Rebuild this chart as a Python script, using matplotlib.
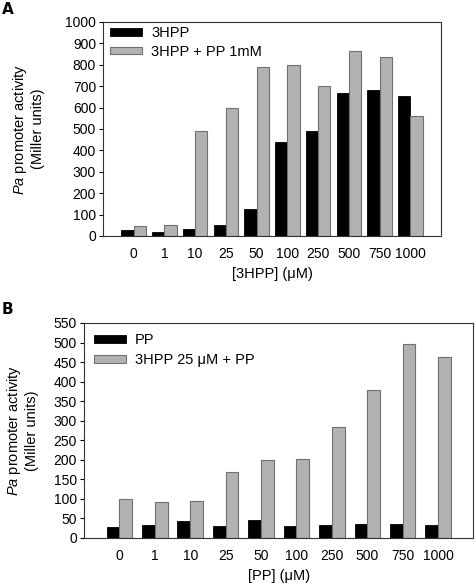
import matplotlib
matplotlib.use("Agg")
import matplotlib.pyplot as plt
import numpy as np

plt.rcParams['font.family'] = ['Liberation Sans', 'DejaVu Sans']
plt.rcParams['mathtext.fontset'] = 'custom'
plt.rcParams['mathtext.rm'] = 'Liberation Sans'
plt.rcParams['mathtext.it'] = 'Liberation Sans:italic'

# panel A
conc_a = ['0', '1', '10', '25', '50', '100', '250', '500', '750', '1000']
hpp = [28, 20, 35, 50, 128, 438, 490, 670, 680, 652]
hpp_pp = [47, 52, 492, 600, 790, 800, 700, 865, 838, 562]

# panel B
conc_b = ['0', '1', '10', '25', '50', '100', '250', '500', '750', '1000']
pp = [28, 33, 43, 31, 46, 31, 32, 35, 36, 33]
hpp25_pp = [100, 93, 95, 170, 200, 202, 285, 378, 495, 462]

black = '#000000'
gray = '#b2b2b2'
gray_edge = '#707070'

fig = plt.figure(figsize=(4.75, 5.83), dpi=100)
ax1 = fig.add_axes([0.2168, 0.5952, 0.7116, 0.3671])
ax2 = fig.add_axes([0.1768, 0.0772, 0.8200, 0.3688])

ylab = '$\\it{Pa}$ promoter activity\n(Miller units)'


def draw(ax, cats, s1, s2, labels, width, ymax, step, xlabel, anchor, lspace):
    x = np.arange(len(cats))
    ax.bar(x - width / 2, s1, width, color=black, edgecolor=black,
           linewidth=0.6, label=labels[0])
    ax.bar(x + width / 2, s2, width, color=gray, edgecolor=gray_edge,
           linewidth=0.8, label=labels[1])
    ax.set_xlim(-1, len(cats))
    ax.set_ylim(0, ymax)
    ax.set_yticks(np.arange(0, ymax + 1, step))
    ax.set_xticks(x)
    ax.set_xticklabels(cats)
    ax.tick_params(axis='x', length=0, pad=8, labelsize=10)
    ax.tick_params(axis='y', length=3, width=0.8, direction='out', pad=2,
                   labelsize=10)
    for sp in ax.spines.values():
        sp.set_linewidth(0.8)
        sp.set_color('#333333')
    ax.set_xlabel(xlabel, fontsize=10.5, labelpad=4)
    ax.set_ylabel(ylab, fontsize=10.5, linespacing=1.2)
    leg = ax.legend(loc='upper left', bbox_to_anchor=anchor, frameon=False,
                    fontsize=10.5, handlelength=2.2, handleheight=0.45,
                    labelspacing=lspace, handletextpad=0.6, borderaxespad=0.1)
    return leg


draw(ax1, conc_a, hpp, hpp_pp, ['3HPP', '3HPP + PP 1mM'], 0.4, 1000, 100,
     '[3HPP] (\u03bcM)', (0.0, 1.015), 0.32)
draw(ax2, conc_b, pp, hpp25_pp, ['PP', '3HPP 25 \u03bcM + PP'], 0.36, 550, 50,
     '[PP] (\u03bcM)', (0.007, 0.985), 0.38)

ax1.yaxis.set_label_coords(-0.172, 0.5)
ax2.yaxis.set_label_coords(-0.115, 0.5)

fig.text(0.003, 0.997, 'A', fontsize=11, fontweight='bold',
         family='DejaVu Sans', va='top', ha='left')
fig.text(0.003, 0.482, 'B', fontsize=11, fontweight='bold',
         family='DejaVu Sans', va='top', ha='left')

fig.savefig('out.png', dpi=100)
